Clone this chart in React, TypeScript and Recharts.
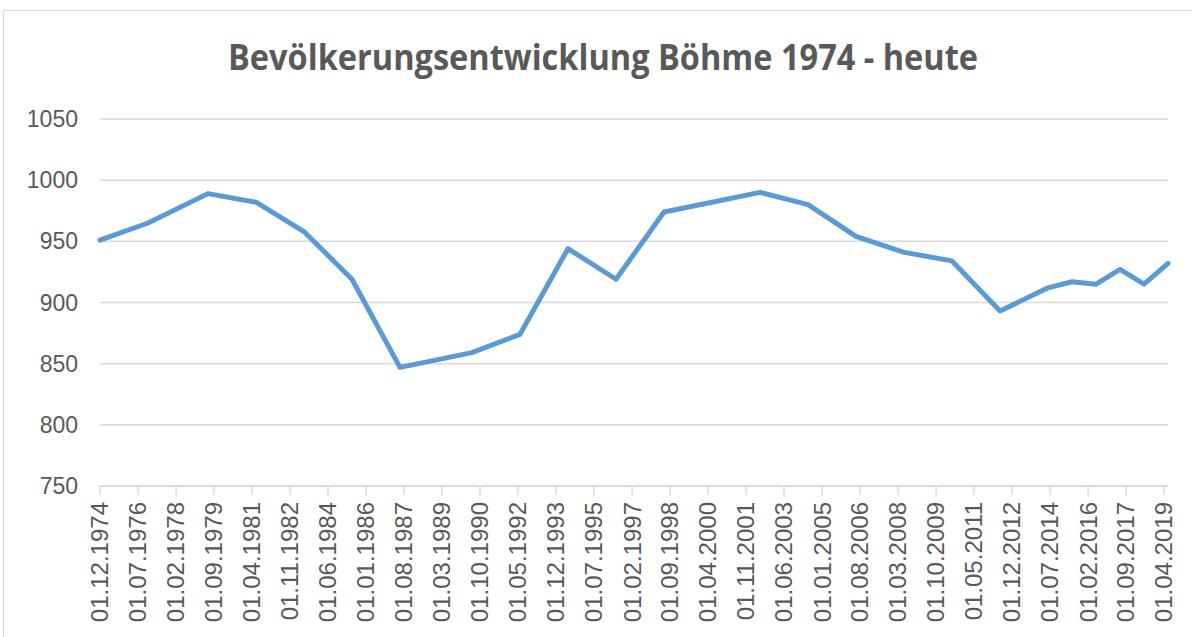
import { CartesianGrid, Line, LineChart, XAxis, YAxis } from 'recharts'

const TITLE = 'Bevölkerungsentwicklung Böhme 1974 - heute'

// Stichtag (Jahr-Monat) und Einwohnerzahl
const dates = [
  '1974-12', '1976-12', '1979-06', '1981-06', '1983-06', '1985-06', '1987-06',
  '1990-06', '1992-06', '1994-06', '1996-06', '1998-06', '2000-06', '2002-06',
  '2004-06', '2006-06', '2008-06', '2010-06', '2012-06', '2014-06', '2015-06',
  '2016-06', '2017-06', '2018-06', '2019-06',
]
const population = [
  951, 965, 989, 982, 958, 919, 847,
  859, 874, 944, 919, 974, 982, 990,
  980, 954, 941, 934, 893, 912, 917,
  915, 927, 915, 932,
]

const tickLabels = [
  '01.12.1974', '01.07.1976', '01.02.1978', '01.09.1979', '01.04.1981', '01.11.1982',
  '01.06.1984', '01.01.1986', '01.08.1987', '01.03.1989', '01.10.1990', '01.05.1992',
  '01.12.1993', '01.07.1995', '01.02.1997', '01.09.1998', '01.04.2000', '01.11.2001',
  '01.06.2003', '01.01.2005', '01.08.2006', '01.03.2008', '01.10.2009', '01.05.2011',
  '01.12.2012', '01.07.2014', '01.02.2016', '01.09.2017', '01.04.2019',
]
const yTicks = [750, 800, 850, 900, 950, 1000, 1050]

const INK = '#595959'
const GRID = '#d9d9d9'
const LINE = '#5b9bd5'
const FONT = "'Liberation Sans', Arial, sans-serif"

function monthToTime(s: string) {
  const [y, m] = s.split('-').map(Number)
  return Date.UTC(y, m - 1, 1)
}

function labelToTime(s: string) {
  const [d, m, y] = s.split('.').map(Number)
  return Date.UTC(y, m - 1, d)
}

function fmt(t: number) {
  const d = new Date(t)
  const dd = String(d.getUTCDate()).padStart(2, '0')
  const mm = String(d.getUTCMonth() + 1).padStart(2, '0')
  return `${dd}.${mm}.${d.getUTCFullYear()}`
}

const data = dates.map((d, i) => ({ t: monthToTime(d), value: population[i] }))
const xTicks = tickLabels.map(labelToTime)

function XTick({ x, y, payload }: any) {
  return (
    <g transform={`translate(${x},${y})`}>
      <text transform="rotate(-90)" textAnchor="end" dy="0.35em" fill={INK} fontSize={24} fontFamily={FONT}>
        {fmt(payload.value)}
      </text>
    </g>
  )
}

export default function App() {
  return (
    <div style={{ position: 'absolute', left: 0, top: 0, width: 1192, height: 637, overflow: 'hidden', background: '#fff' }}>
      {/* Excel-Rahmen, rechts und unten abgeschnitten */}
      <div style={{ position: 'absolute', left: 3, top: 10, width: 1250, height: 700, border: `1px solid ${GRID}` }} />
      <svg width={1192} height={100} style={{ position: 'absolute', left: 0, top: 0 }}>
        <text
          x={603}
          y={70}
          textAnchor="middle"
          fontFamily="'Open Sans', sans-serif"
          fontWeight={700}
          fontSize={36}
          fill={INK}
          textLength={750}
          lengthAdjust="spacingAndGlyphs"
        >
          {TITLE}
        </text>
      </svg>
      <div style={{ position: 'absolute', left: 0, top: 0 }}>
        <LineChart width={1192} height={637} data={data} margin={{ top: 119, right: 24, bottom: 0, left: 0 }}>
          <CartesianGrid vertical={false} stroke={GRID} strokeWidth={1.5} />
          <XAxis
            dataKey="t"
            type="number"
            domain={['dataMin', 'dataMax']}
            ticks={xTicks}
            interval={0}
            tick={<XTick />}
            tickSize={9}
            tickMargin={7}
            tickLine={{ stroke: GRID, strokeWidth: 1.5 }}
            axisLine={{ stroke: GRID, strokeWidth: 1.5 }}
            height={151}
          />
          <YAxis
            domain={[750, 1050]}
            ticks={yTicks}
            interval={0}
            axisLine={false}
            tickLine={false}
            tickSize={0}
            tickMargin={22}
            width={100}
            tick={{ fill: INK, fontSize: 23, fontFamily: FONT }}
          />
          <Line
            type="linear"
            dataKey="value"
            stroke={LINE}
            strokeWidth={5}
            strokeLinejoin="round"
            strokeLinecap="round"
            dot={false}
            isAnimationActive={false}
          />
        </LineChart>
      </div>
    </div>
  )
}
